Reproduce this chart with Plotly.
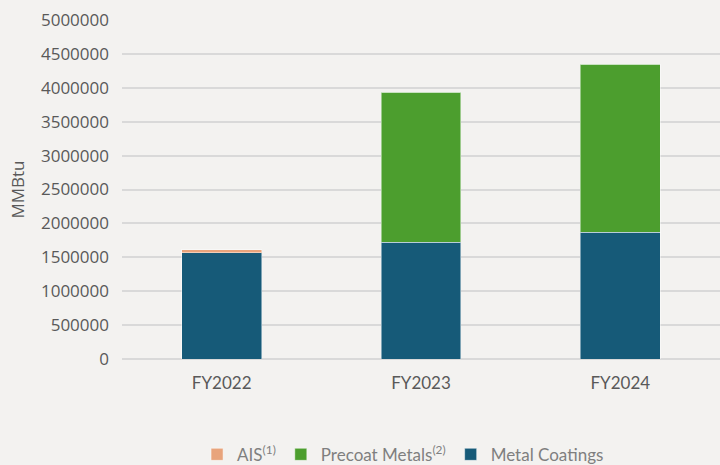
import plotly.graph_objects as go

# Energy consumption by business segment (MMBtu)
years = ["FY2022", "FY2023", "FY2024"]
metal_coatings = [1568000, 1721000, 1873000]
precoat_metals = [0, 2213000, 2474000]
ais = [40000, 0, 0]

y_ticks = [0, 500000, 1000000, 1500000, 2000000, 2500000,
           3000000, 3500000, 4000000, 4500000, 5000000]

BG = "#F3F2F0"
outline = dict(color="rgba(255,255,255,0.45)", width=1)

fig = go.Figure()
fig.add_trace(go.Bar(name="Metal Coatings", x=years, y=metal_coatings,
                     marker=dict(color="#165A78", line=outline)))
fig.add_trace(go.Bar(name="Precoat Metals<sup>(2)</sup>", x=years, y=precoat_metals,
                     marker=dict(color="#4C9E2E", line=outline)))
fig.add_trace(go.Bar(name="AIS<sup>(1)</sup>", x=years, y=ais,
                     marker=dict(color="#E8A47C", line=outline)))

fig.update_layout(
    width=720, height=465,
    barmode="stack",
    bargap=0.6,
    paper_bgcolor=BG,
    plot_bgcolor=BG,
    margin=dict(l=122, r=0, t=20, b=106, autoexpand=False),
    showlegend=True,
    legend=dict(
        orientation="h",
        traceorder="reversed",
        x=0.47, xanchor="center",
        yref="container",
        y=0.022, yanchor="middle",
        font=dict(family="Lato", size=17, color="#7F7F7F"),
        itemwidth=30,
        bgcolor="rgba(0,0,0,0)",
    ),
    xaxis=dict(
        tickfont=dict(family="Lato", size=17, color="#595959"),
        showgrid=False,
        showline=False,
        ticks="",
        ticklabelstandoff=12,
        automargin=False,
    ),
    yaxis=dict(
        range=[0, 5000000],
        tickvals=y_ticks,
        ticktext=[str(v) for v in y_ticks],
        tickfont=dict(family="Open Sans", size=17, color="#595959"),
        gridcolor="#D9D9D9",
        gridwidth=2,
        zeroline=True,
        zerolinecolor="#D9D9D9",
        zerolinewidth=2,
        ticklabelstandoff=12,
        automargin=False,
        title=dict(text="MMBtu", font=dict(family="Open Sans", size=17, color="#595959"),
                   standoff=12),
    ),
)

fig.write_html("out.html")
